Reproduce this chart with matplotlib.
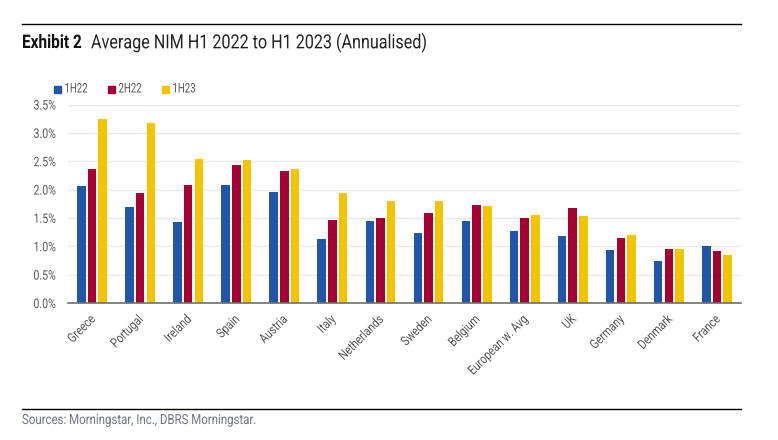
import numpy
import matplotlib
matplotlib.use("Agg")
import matplotlib.pyplot as plt
import matplotlib.patheffects as pe
from matplotlib.lines import Line2D
from matplotlib.ticker import FuncFormatter
from matplotlib.transforms import Affine2D, ScaledTranslation

countries = ["Greece", "Portugal", "Ireland", "Spain", "Austria", "Italy", "Netherlands",
             "Sweden", "Belgium", "European w. Avg", "UK", "Germany", "Denmark", "France"]
h1_22 = [2.06, 1.69, 1.42, 2.08, 1.96, 1.13, 1.44, 1.24, 1.45, 1.27, 1.19, 0.93, 0.74, 1.01]
h2_22 = [2.36, 1.94, 2.08, 2.44, 2.33, 1.46, 1.49, 1.59, 1.72, 1.49, 1.68, 1.14, 0.96, 0.92]
h1_23 = [3.25, 3.18, 2.54, 2.52, 2.37, 1.94, 1.80, 1.79, 1.71, 1.56, 1.54, 1.20, 0.96, 0.85]
series_names = ["1H22", "2H22", "1H23"]
y_ticks = [0.0, 0.5, 1.0, 1.5, 2.0, 2.5, 3.0, 3.5]

colors = ["#1f56a5", "#a50034", "#f5c400"]
text_col = "#55565a"

plt.rcParams["font.family"] = ["Roboto", "DejaVu Sans"]


class Condense(pe.AbstractPathEffect):
    """Squeeze glyphs sideways, no condensed font is installed"""

    def __init__(self, sx, right=False):
        super().__init__()
        self.sx = sx
        self.right = right

    def draw_path(self, renderer, gc, tpath, affine, rgbFace=None):
        x0 = tpath.get_extents().x1 if self.right else 0
        squeeze = Affine2D().translate(-x0, 0).scale(self.sx, 1).translate(x0, 0)
        renderer.draw_path(gc, tpath, squeeze + affine, rgbFace)


W, H = 778, 440
fig = plt.figure(figsize=(W / 100, H / 100), dpi=100)
ax = fig.add_axes([68 / W, 1 - 303 / H, (741 - 68) / W, (303 - 104.5) / H])

x = numpy.arange(len(countries))
step = 0.222
bar_w = 0.178
for i, vals in enumerate([h1_22, h2_22, h1_23]):
    ax.bar(x + (i - 1) * step, vals, width=bar_w, color=colors[i], zorder=3)

ax.set_xlim(-0.5, len(countries) - 0.5)
ax.set_ylim(0, 3.5)
ax.set_yticks(y_ticks)
ax.yaxis.set_major_formatter(FuncFormatter(lambda v, p: f"{v:.1f}%"))
ax.set_xticks(x)
ax.set_xticklabels(countries, rotation=45, ha="right", rotation_mode="anchor")
ax.tick_params(axis="both", length=0, labelsize=9.5, labelcolor=text_col)
ax.tick_params(axis="x", pad=7)
ax.tick_params(axis="y", pad=8.5)
ax.grid(axis="y", color="#e8e8e8", linewidth=1, zorder=0)
ax.set_axisbelow(True)
for s in ["top", "left", "right"]:
    ax.spines[s].set_visible(False)
ax.spines["bottom"].set_color("#6e6e6e")
ax.spines["bottom"].set_linewidth(1.2)
ax.spines["bottom"].set_zorder(4)

fig.canvas.draw()
for lab in ax.get_yticklabels():
    lab.set_path_effects([Condense(0.8, right=True)])
for lab in ax.get_xticklabels():
    lab.set_path_effects([Condense(0.8, right=True)])
    lab.set_transform(lab.get_transform() + ScaledTranslation(-3 / 100, 0, fig.dpi_scale_trans))

# header and footer rules
fig.add_artist(Line2D([22 / W, 741 / W], [1 - 24.5 / H] * 2, color="black", linewidth=1))
fig.add_artist(Line2D([22 / W, 741 / W], [1 - 409 / H] * 2, color="black", linewidth=1))

t = fig.text(22 / W, 1 - 43 / H, "Exhibit 2", fontsize=13.5, fontweight="bold", color="#111111", va="center")
t.set_path_effects([Condense(0.82)])
t = fig.text(91 / W, 1 - 43 / H, "Average NIM H1 2022 to H1 2023 (Annualised)", fontsize=14, color="#222222", va="center")
t.set_path_effects([Condense(0.83)])
t = fig.text(22 / W, 1 - 420 / H, "Sources: Morningstar, Inc., DBRS Morningstar.", fontsize=10, color="#6f7480", va="center")
t.set_path_effects([Condense(0.825)])

# legend drawn by hand to hit the spacing
for name, col, lx in zip(series_names, colors, [54, 108, 162]):
    fig.patches.append(plt.Rectangle((lx / W, 1 - 93 / H), 7 / W, 7 / H, transform=fig.transFigure, color=col))
    t = fig.text((lx + 10.5) / W, 1 - 89 / H, name, fontsize=9.5, color=text_col, va="center")
    t.set_path_effects([Condense(0.73)])

fig.savefig("out.png", dpi=100)
